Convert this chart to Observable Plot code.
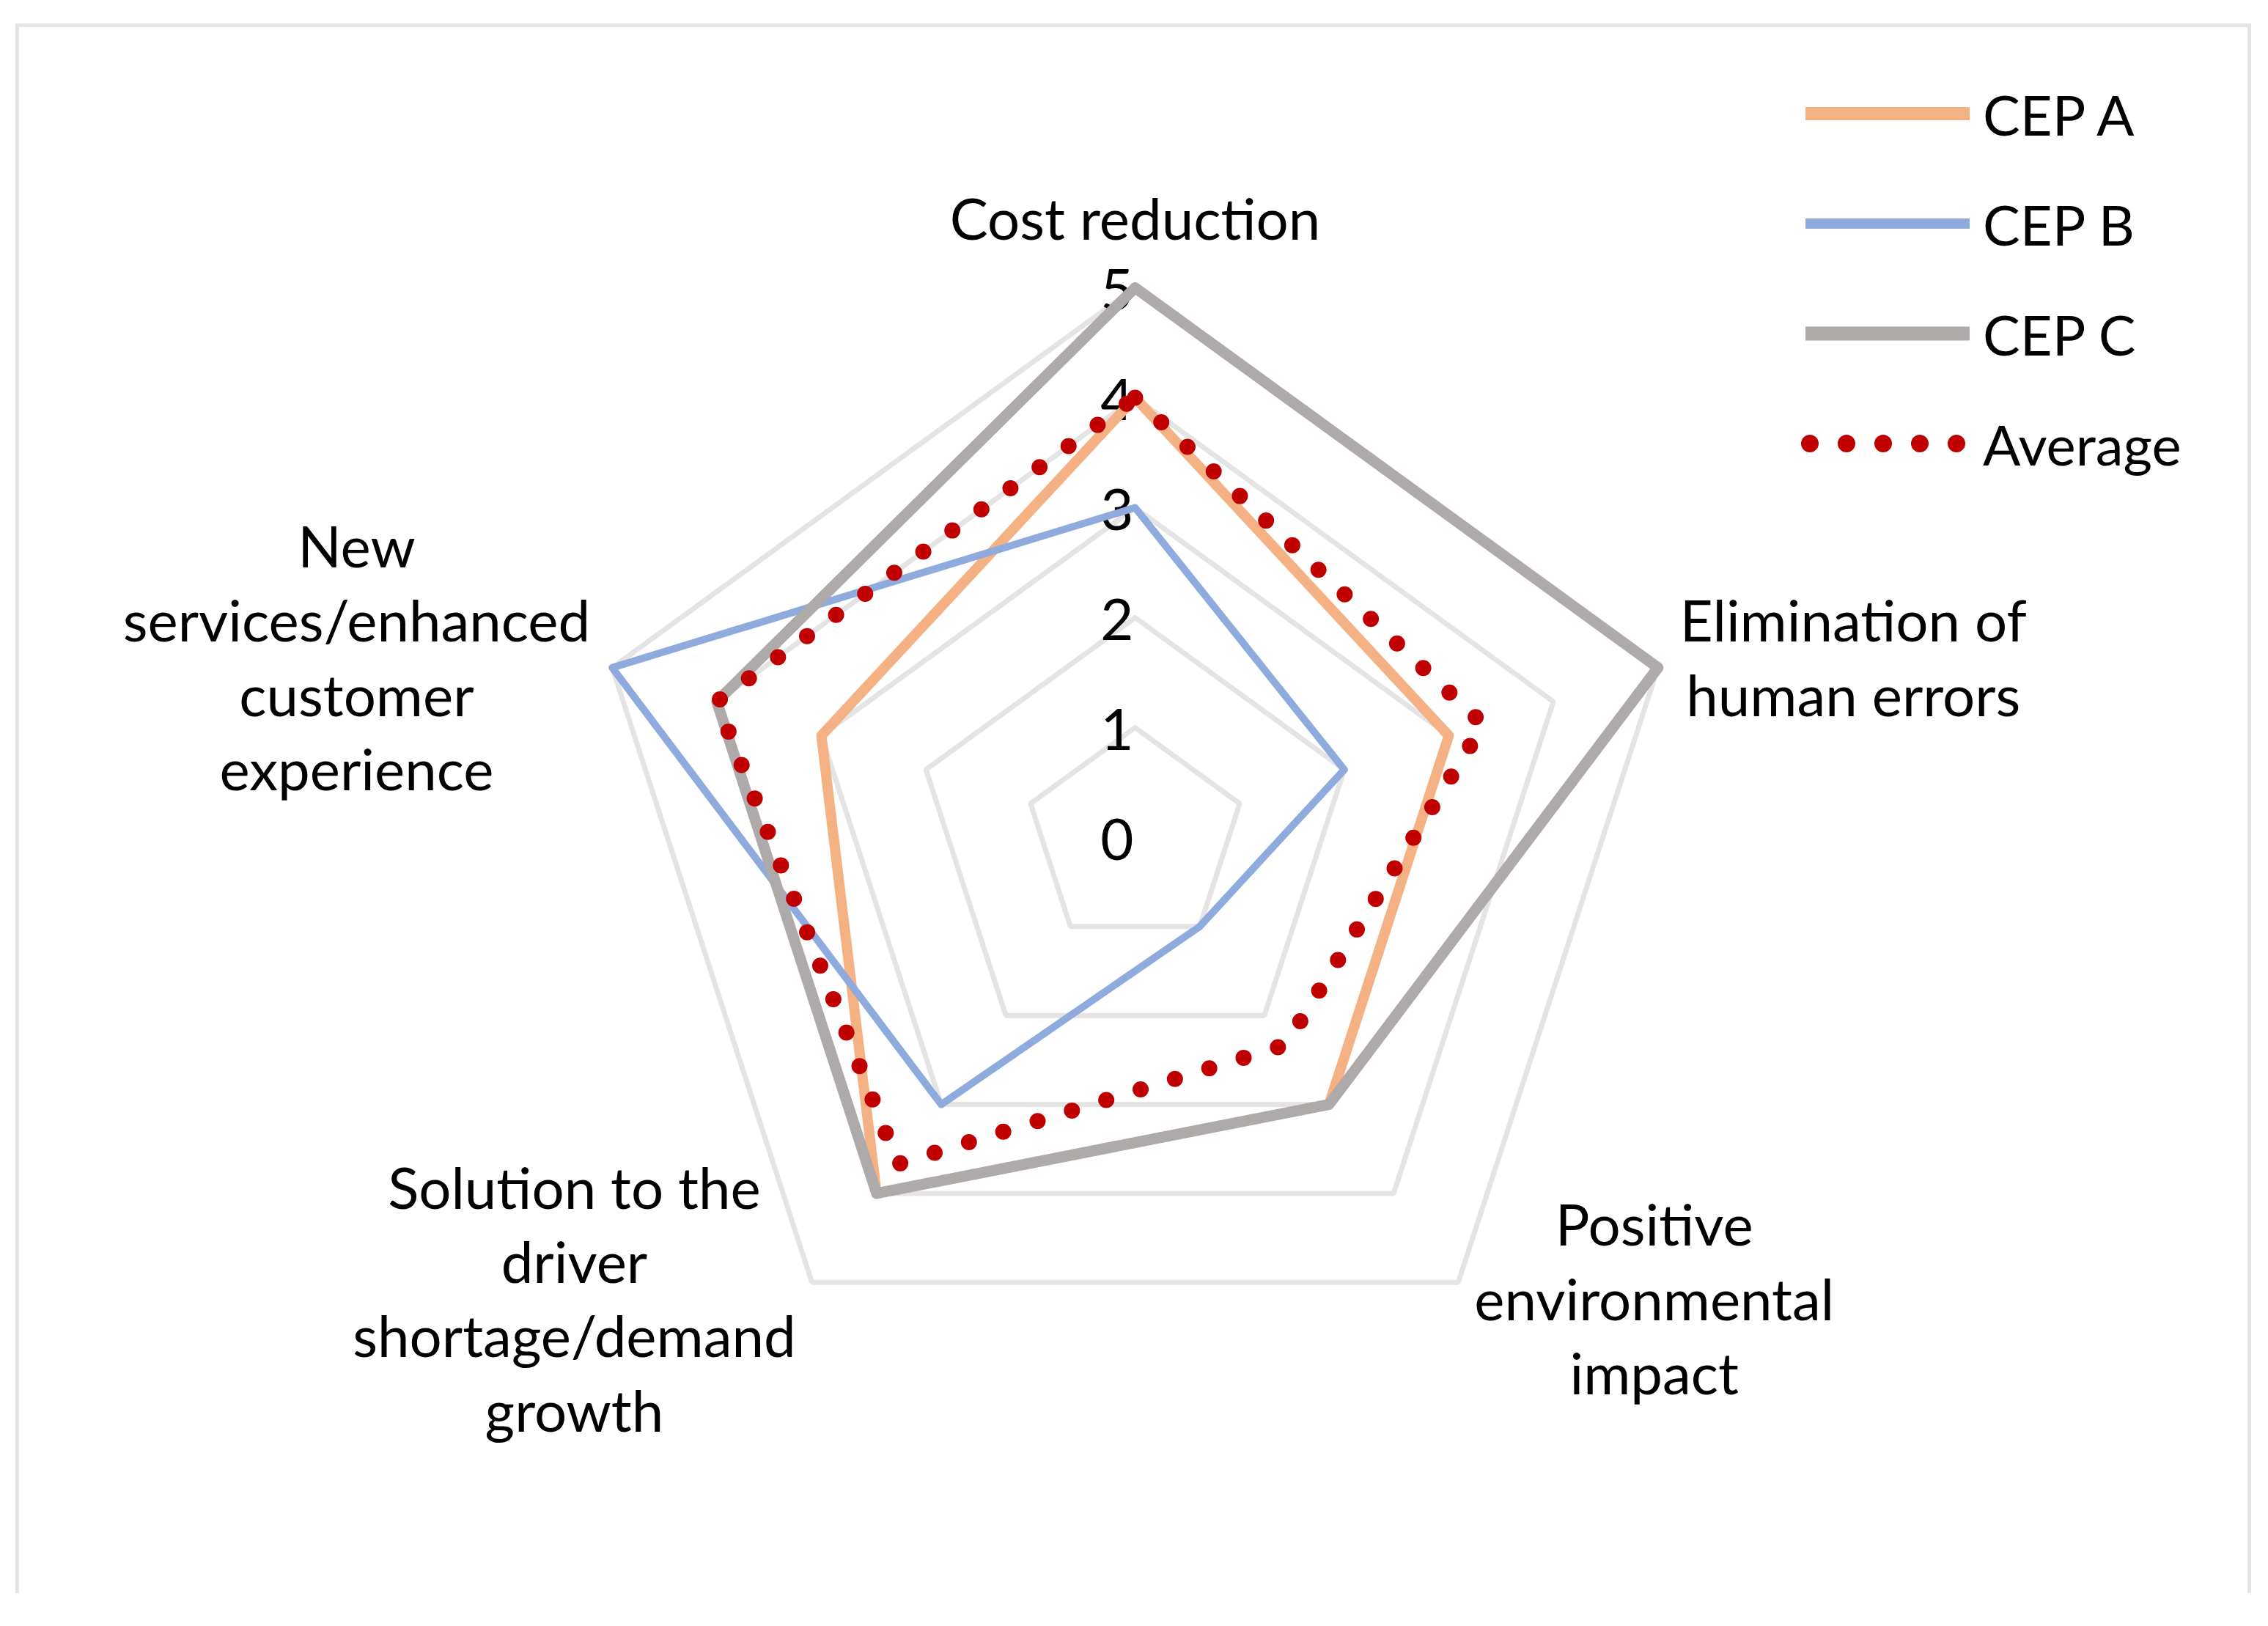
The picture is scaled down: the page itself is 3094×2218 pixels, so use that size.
<!DOCTYPE html>
<html><head><meta charset="utf-8">
<script src="https://cdn.jsdelivr.net/npm/d3@7"></script>
<script src="https://cdn.jsdelivr.net/npm/@observablehq/plot@0.6"></script>
<style>
body{margin:0;background:#fff;}
#wrap{position:relative;width:3094px;height:2218px;font-family:Lato,"Open Sans",sans-serif;overflow:hidden;}
#frame{position:absolute;left:21px;top:32px;width:3050px;height:2141px;border:5px solid #e4e4e4;border-bottom:none;box-sizing:border-box;pointer-events:none;}
#chart{position:absolute;left:0;top:0;}
#legend{position:absolute;left:2455px;top:0;}
.item{position:absolute;left:0;height:100px;display:flex;align-items:center;white-space:nowrap;font-size:76px;color:#000;}
.item svg{margin-right:10px;}
</style></head>
<body><div id="wrap"><div id="chart"></div><div id="frame"></div><div id="legend"></div></div>
<script>
// ---- data ----
const categories = [
  "Cost reduction",
  "Elimination of\nhuman errors",
  "Positive\nenvironmental\nimpact",
  "Solution to the\ndriver\nshortage/demand\ngrowth",
  "New\nservices/enhanced\ncustomer\nexperience"
];
const cepA = [4, 3, 3, 4, 3];
const cepB = [3, 2, 1, 3, 5];
const cepC = [5, 5, 3, 4, 4];
const average = [4, 3.33, 2.33, 3.67, 4];
const seriesNames = ["CEP A", "CEP B", "CEP C", "Average"];
const tickValues = [0, 1, 2, 3, 4, 5];

// ---- layout ----
const W = 3094, H = 2218;
const cx = 1548, cy = 1142, unit = 150; // px per value unit
const FONT = 78;
const colors = {"CEP A": "#F4B183", "CEP B": "#8FAADC", "CEP C": "#AEAAAA", "Average": "#C00000"};
const widths = {"CEP A": 14, "CEP B": 10, "CEP C": 15, "Average": 22};

const n = categories.length;
const ang = i => (i % n) * 2 * Math.PI / n;
function ring(values, key) {
  const pts = [];
  for (let i = 0; i <= n; i++) {
    const v = values[i % n];
    pts.push({key, x: v * Math.sin(ang(i)), y: v * Math.cos(ang(i))});
  }
  return pts;
}
const maxV = d3.max(tickValues);
const grid = tickValues.filter(t => t > 0).flatMap(t => ring(Array(n).fill(t), t));
const seriesData = {"CEP A": cepA, "CEP B": cepB, "CEP C": cepC, "Average": average};

// category label placement (measured text widths)
const ctx = document.createElement("canvas").getContext("2d");
ctx.font = `${FONT}px Lato`;
const labels = categories.map((c, i) => {
  const lines = c.split("\n");
  const w = d3.max(lines, l => ctx.measureText(l).width);
  const s = Math.sin(ang(i)), co = Math.cos(ang(i));
  let px = maxV * s, py = maxV * co; // vertex, value units
  let lx, ly;
  if (Math.abs(s) < 1e-6) { lx = 0; ly = py + 98 / unit; }
  else {
    const side = co > 0;
    const gap = side ? 30 : 22;
    lx = px + Math.sign(s) * (gap + w / 2) / unit;
    ly = py + (side ? 17 : -19) / unit;
  }
  return {text: c, x: lx, y: ly};
});

const marks = [
  Plot.line(grid, {x: "x", y: "y", z: "key", stroke: "#e4e4e4", strokeWidth: 7, strokeLinejoin: "miter"}),
  Plot.text(tickValues, {x: () => 0, y: d => d, text: d => String(d), textAnchor: "end", dx: -2, dy: 6, fontSize: FONT, fill: "#000"}),
];
for (const name of seriesNames) {
  const opts = {x: "x", y: "y", stroke: colors[name], strokeWidth: widths[name], strokeLinejoin: "round"};
  if (name === "Average") Object.assign(opts, {strokeDasharray: "0 49", strokeLinecap: "round"});
  marks.push(Plot.line(ring(seriesData[name], name), opts));
}
marks.push(Plot.text(labels, {x: "x", y: "y", text: "text", textAnchor: "middle", lineAnchor: "middle", lineHeight: 1.3, fontSize: FONT, fill: "#000"}));

const chart = Plot.plot({
  width: W, height: H, margin: 0,
  style: {fontFamily: "Lato, 'Open Sans', sans-serif", background: "transparent", overflow: "visible"},
  x: {domain: [-cx / unit, (W - cx) / unit], range: [0, W], axis: null},
  y: {domain: [-(H - cy) / unit, cy / unit], range: [H, 0], axis: null},
  marks
});
document.getElementById("chart").appendChild(chart);

// legend
const legend = document.getElementById("legend");
seriesNames.forEach((name, i) => {
  const div = document.createElement("div");
  div.className = "item";
  div.style.top = (105 + i * 150) + "px";
  const svg = d3.create("svg").attr("width", 240).attr("height", 40);
  const ln = svg.append("line").attr("x1", 8).attr("x2", 232).attr("y1", 20).attr("y2", 20)
    .attr("stroke", colors[name]).attr("stroke-width", name === "Average" ? 24 : widths[name] + 4);
  if (name === "Average") ln.attr("stroke-dasharray", "0 50").attr("stroke-linecap", "round").attr("x1", 14);
  div.appendChild(svg.node());
  const sp = document.createElement("span");
  sp.textContent = name;
  div.appendChild(sp);
  legend.appendChild(div);
});
</script>
</body></html>
